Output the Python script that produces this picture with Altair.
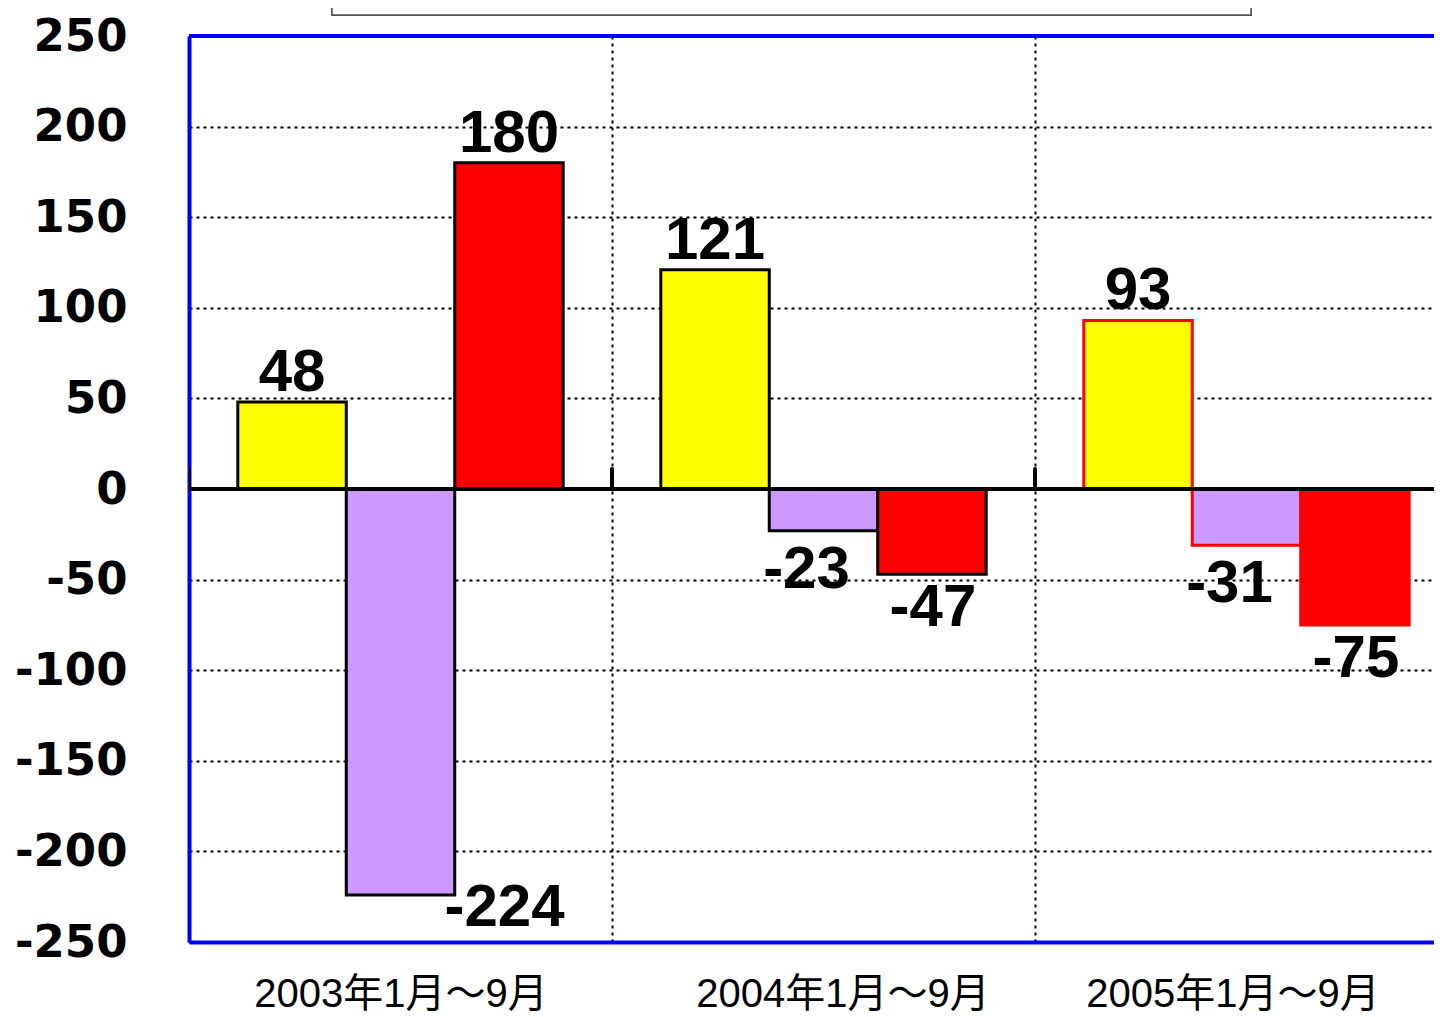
import altair as alt
import pandas as pd

groups = ["2003年1月～9月", "2004年1月～9月", "2005年1月～9月"]
series = ["系列1", "系列2", "系列3"]
series1 = [48, 121, 93]
series2 = [-224, -23, -31]
series3 = [180, -47, -75]
y_ticks = [-250, -200, -150, -100, -50, 0, 50, 100, 150, 200, 250]

rows = []
for i, g in enumerate(groups):
    for s, vals in zip(series, [series1, series2, series3]):
        rows.append({"group": g, "series": s, "value": vals[i]})
df = pd.DataFrame(rows)

W, H = 1269, 906
xscale = alt.Scale(domain=groups, paddingInner=0, paddingOuter=0)
offscale = alt.Scale(domain=series, paddingInner=0, paddingOuter=0.45)
yscale = alt.Scale(domain=[-250, 250], nice=False, zero=False)

x_axis = alt.Axis(
    orient="bottom", labelAngle=0, ticks=False, tickBand="extent",
    grid=True, gridColor="black", gridDash=[3, 4], gridWidth=2,
    domainColor="#0000FF", domainWidth=4, labelLimit=0,
    labelFont="Liberation Sans, Noto Sans CJK JP", labelFontSize=40,
    labelColor="black", labelPadding=32, labelBaseline="top",
    labelOffset={"condition": [
        {"test": "datum.value == '2004年1月～9月'", "value": 19},
        {"test": "datum.value == '2005年1月～9月'", "value": -14}],
        "value": 0},
)
y_axis = alt.Axis(
    values=y_ticks, ticks=False, grid=True, gridColor="black",
    gridDash=[3, 4], gridWidth=2, domainColor="#0000FF", domainWidth=4,
    labelFont="DejaVu Sans", labelFontWeight="bold", labelFontSize=45,
    labelColor="black", labelPadding=62, labelExpr="datum.value + ''",
)


def xe(**kw):
    return alt.X("group:N", scale=xscale, sort=groups, title=None, axis=x_axis, **kw)


def ye():
    return alt.Y("value:Q", scale=yscale, title=None, axis=y_axis)


xoff = alt.XOffset("series:N", scale=offscale, sort=series)

base = alt.Chart(df).transform_calculate(label="'' + datum.value")

bars = base.mark_bar(strokeWidth=3, clip=True).encode(
    x=xe(),
    xOffset=xoff,
    y=ye(),
    y2=alt.datum(0),
    fill=alt.Fill("series:N", scale=alt.Scale(domain=series, range=["#FFFF00", "#CC99FF", "#FF0000"]), legend=None),
    stroke=alt.condition("datum.group == '2005年1月～9月'", alt.value("#FF0000"), alt.value("black")),
)

zero = base.mark_rule(color="black", strokeWidth=4).encode(
    y=alt.datum(0), x=alt.value(0), x2=alt.value(W)
)
top = base.mark_rule(color="#0000FF", strokeWidth=4).encode(
    y=alt.datum(250), x=alt.value(0), x2=alt.value(W)
)
ticks = base.transform_filter(alt.datum.series == series[0]).mark_rule(
    color="black", strokeWidth=4, strokeCap="round", clip=True
).encode(
    x=xe(bandPosition=0),
    y=alt.datum(0), y2=alt.datum(11),
)

txt = dict(font="Liberation Sans", fontWeight="bold", fontSize=60, color="black")
pos = base.transform_filter(alt.datum.value > 0).mark_text(
    baseline="alphabetic", dy=-11, **txt
).encode(x=xe(), xOffset=xoff, y=ye(), text="label:N")
neg_mid = base.transform_filter(
    f"datum.value < 0 && datum.value > -200 && datum.series == '{series[1]}'"
).mark_text(baseline="top", dy=10, dx=-17, **txt).encode(
    x=xe(), xOffset=xoff, y=ye(), text="label:N")
neg_last = base.transform_filter(
    f"datum.value < 0 && datum.series == '{series[2]}'"
).mark_text(baseline="top", dy=5, dx=1, **txt).encode(
    x=xe(), xOffset=xoff, y=ye(), text="label:N")
neg_big = base.transform_filter("datum.value <= -200").mark_text(
    baseline="top", dy=-16, dx=104, **txt
).encode(x=xe(), xOffset=xoff, y=ye(), text="label:N")

legend_box = base.mark_rect(fill="white", stroke="#555555", strokeWidth=1.5).encode(
    x=alt.value(143), x2=alt.value(1062), y=alt.value(-60), y2=alt.value(-21)
)

chart = alt.layer(bars, zero, ticks, top, pos, neg_mid, neg_last, neg_big, legend_box).properties(
    width=W, height=H,
    autosize=alt.AutoSizeParams(type="none"),
    padding={"left": 181, "top": 28, "right": -24, "bottom": 75},
).configure_view(strokeWidth=0).configure(background="white")

chart.save("out.html", embed_options={"renderer": "svg", "actions": False})
